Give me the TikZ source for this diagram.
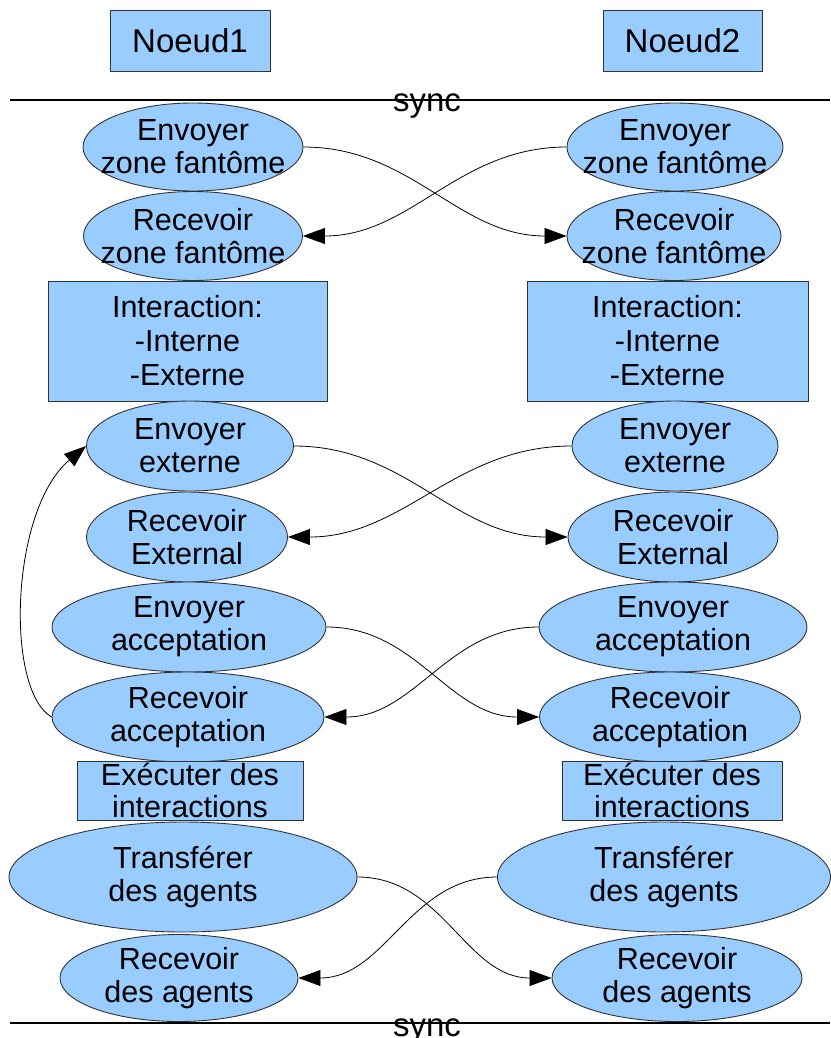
\documentclass[tikz,border=0pt]{standalone}
\usepackage{fontspec}
\setmainfont{Liberation Sans}
\usetikzlibrary{shapes.geometric,arrows.meta}
\definecolor{fillblue}{HTML}{99CCFF}
\definecolor{edge}{HTML}{333333}
\begin{document}
\begin{tikzpicture}[x=1pt,y=-1pt,
  box/.style={draw=edge,fill=fillblue,line width=0.9pt,inner sep=0pt,align=center,font=\fontsize{30.5}{34}\selectfont},
  ell/.style={ellipse,draw=edge,fill=fillblue,line width=0.9pt,inner xsep=-60pt,inner ysep=-40pt,align=center,font=\fontsize{30.5}{33}\selectfont},
  conn/.style={-{Triangle[length=22pt,width=16pt]},line width=0.8pt},
  syncline/.style={line width=2.5pt},
  synctext/.style={anchor=base,inner sep=0pt,font=\fontsize{33}{36}\selectfont}]
\useasboundingbox (0,0) rectangle (830,1038);

% header boxes
\node[box,minimum width=160pt,minimum height=61pt,font=\fontsize{33}{36}\selectfont] (n1) at (190,40.5) {Noeud1};
\node[box,minimum width=159pt,minimum height=61pt,font=\fontsize{33}{36}\selectfont] (n2) at (682.5,40.5) {Noeud2};

% sync lines
\coordinate (s1a) at (10,100);
\coordinate (s1b) at (830,100);
\coordinate (s2a) at (10,1023);
\coordinate (s2b) at (830,1023);
\draw[syncline] (s1a) -- (s1b);
\draw[syncline] (s2a) -- (s2b);
\node[synctext] (sync1) at (427,112) {sync};
\node[synctext] (sync2) at (427,1036) {sync};

% left column
\node[ell,minimum width=220pt,minimum height=88pt] (ez1) at (193,147) {Envoyer\\zone fantôme};
\node[ell,minimum width=219pt,minimum height=89pt] (rz1) at (193,236) {Recevoir\\zone fantôme};
\node[box,minimum width=279pt,minimum height=120pt] (i1) at (187.5,341) {Interaction:\\-Interne\\-Externe};
\node[ell,minimum width=207pt,minimum height=90pt] (ee1) at (190,446) {Envoyer\\externe};
\node[ell,minimum width=201pt,minimum height=90pt] (re1) at (187,537) {Recevoir\\External};
\node[ell,minimum width=274pt,minimum height=90pt] (ea1) at (189,627) {Envoyer\\acceptation};
\node[ell,minimum width=272pt,minimum height=90pt] (ra1) at (188,717) {Recevoir\\acceptation};
\node[box,minimum width=226pt,minimum height=59pt,font=\fontsize{30.5}{32}\selectfont] (x1) at (190,790.5) {Exécuter des\\interactions};
\node[ell,minimum width=348pt,minimum height=110pt] (ta1) at (183,877) {Transférer\\des agents};
\node[ell,minimum width=238pt,minimum height=87pt] (rg1) at (179,978) {Recevoir\\des agents};

% right column
\node[ell,minimum width=216pt,minimum height=88pt] (ez2) at (675,147) {Envoyer\\zone fantôme};
\node[ell,minimum width=214pt,minimum height=89pt] (rz2) at (674,236) {Recevoir\\zone fantôme};
\node[box,minimum width=281pt,minimum height=120pt] (i2) at (667.5,341) {Interaction:\\-Interne\\-Externe};
\node[ell,minimum width=206pt,minimum height=90pt] (ee2) at (675,446) {Envoyer\\externe};
\node[ell,minimum width=210pt,minimum height=90pt] (re2) at (673,537) {Recevoir\\External};
\node[ell,minimum width=268pt,minimum height=90pt] (ea2) at (673,627) {Envoyer\\acceptation};
\node[ell,minimum width=261pt,minimum height=90pt] (ra2) at (670,717) {Recevoir\\acceptation};
\node[box,minimum width=220pt,minimum height=59pt,font=\fontsize{30.5}{32}\selectfont] (x2) at (672,790.5) {Exécuter des\\interactions};
\node[ell,minimum width=333pt,minimum height=110pt] (ta2) at (664,877) {Transférer\\des agents};
\node[ell,minimum width=250pt,minimum height=87pt] (rg2) at (677,978) {Recevoir\\des agents};

% crossing connectors
\draw[conn] (ez1.east) to[out=0,in=180] (rz2.west);
\draw[conn] (ez2.west) to[out=180,in=0] (rz1.east);
\draw[conn] (ee1.east) to[out=0,in=180] (re2.west);
\draw[conn] (ee2.west) to[out=180,in=0] (re1.east);
\draw[conn] (ea1.east) to[out=0,in=180] (ra2.west);
\draw[conn] (ea2.west) to[out=180,in=0] (ra1.east);
\draw[conn] (ta1.east) to[out=0,in=180] (rg2.west);
\draw[conn] (ta2.west) to[out=180,in=0] (rg1.east);

% loop back
\draw[conn] (ra1.west) .. controls (5,690) and (10,510) .. (ee1.west);
\end{tikzpicture}
\end{document}
